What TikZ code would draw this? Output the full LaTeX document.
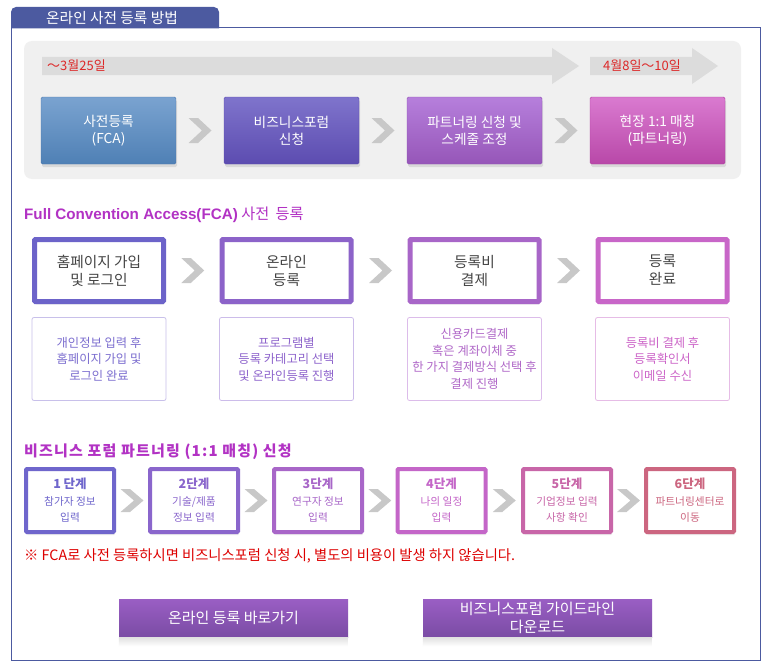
\documentclass[tikz,border=0pt]{standalone}
\usepackage{fontspec}
\setmainfont{Noto Sans CJK KR}
\newfontfamily\latinb{Liberation Sans}
\newfontfamily\spacedkr[LetterSpace=8]{Noto Sans CJK KR}
\usetikzlibrary{shadows,calc}
\definecolor{tabblue}{HTML}{4C5AA0}
\definecolor{panelgray}{HTML}{F0F0F0}
\definecolor{bargray}{HTML}{DCDCDC}
\definecolor{chevgray}{HTML}{C8C8C8}
\definecolor{datered}{HTML}{DD2828}
\definecolor{notered}{HTML}{DD0000}
\definecolor{headmag}{HTML}{B232C4}
\definecolor{textgray}{HTML}{444444}
\definecolor{cA}{HTML}{6C63C9}
\definecolor{cB}{HTML}{8C63C9}
\definecolor{cC}{HTML}{A866C8}
\definecolor{cD}{HTML}{C866C8}
\definecolor{sA}{HTML}{6F66CC}
\definecolor{sB}{HTML}{8A66CC}
\definecolor{sC}{HTML}{A866C8}
\definecolor{sD}{HTML}{C466C8}
\definecolor{sE}{HTML}{C866A8}
\definecolor{sF}{HTML}{CC6680}
\definecolor{tAt}{HTML}{7AA3D0}\definecolor{tAb}{HTML}{4F80B5}\definecolor{tAd}{HTML}{4A78B0}
\definecolor{tBt}{HTML}{7F74CC}\definecolor{tBb}{HTML}{5C4CB0}\definecolor{tBd}{HTML}{5A4AB0}
\definecolor{tCt}{HTML}{B67FDC}\definecolor{tCb}{HTML}{9656B8}\definecolor{tCd}{HTML}{9050B4}
\definecolor{tDt}{HTML}{DA7AD0}\definecolor{tDb}{HTML}{B848A8}\definecolor{tDd}{HTML}{B040A0}
\definecolor{dAd}{HTML}{C8C0EA}\definecolor{dAt}{HTML}{7B6DCF}
\definecolor{dBd}{HTML}{CCBCEA}\definecolor{dBt}{HTML}{8E64CC}
\definecolor{dCd}{HTML}{DCBCEA}\definecolor{dCt}{HTML}{B068C8}
\definecolor{dDd}{HTML}{E6BCE6}\definecolor{dDt}{HTML}{CC64C8}
\definecolor{BtnTop}{HTML}{9A5EC4}
\definecolor{BtnBot}{HTML}{7A4CA4}
\tikzset{
  chev/.pic={\fill[chevgray] (-11.5,-12.5) -- (-2,-12.5) -- (11.5,0) -- (-2,12.5) -- (-11.5,12.5) -- (2,0) -- cycle;},
  smallchev/.pic={\fill[chevgray] (-11.5,-11.5) -- (-2,-11.5) -- (11.5,0) -- (-2,11.5) -- (-11.5,11.5) -- (2,0) -- cycle;},
  topbox/.style={minimum width=135pt, minimum height=67pt, text=white, align=center,
    font=\fontsize{13.7}{17}\selectfont, rounded corners=1.5pt, inner sep=0pt,
    drop shadow={opacity=0.2, shadow xshift=1pt, shadow yshift=-3pt}},
  fcabox/.style={minimum width=129pt, minimum height=62pt, line width=5pt, fill=white,
    align=center, text=textgray, font=\fontsize{14.7}{18}\selectfont, inner sep=0pt,
    rounded corners=1pt, drop shadow={opacity=0.15, shadow xshift=1pt, shadow yshift=-3pt}},
  descbox/.style={minimum width=134pt, minimum height=83pt, line width=0.8pt,
    rounded corners=2pt, fill=white, align=center, font=\fontsize{12.3}{16.5}\selectfont, inner sep=0pt},
  stepbox/.style={minimum width=88pt, minimum height=63pt, line width=4pt, fill=white,
    align=center, font=\fontsize{10.7}{16.5}\selectfont, inner sep=0pt, rounded corners=1pt,
    drop shadow={opacity=0.15, shadow xshift=1pt, shadow yshift=-3pt}},
  btn/.style={minimum width=229pt, minimum height=38pt, top color=BtnTop, bottom color=BtnBot,
    text=white, align=center, font=\fontsize{15}{18}\selectfont, inner sep=0pt},
}
\newcommand{\steptitle}[1]{{\fontsize{12.5}{16.5}\selectfont\bfseries #1}}
\begin{document}
\begin{tikzpicture}[x=1pt,y=-1pt]
\useasboundingbox[fill=white] (0,0) rectangle (768,669);
% frame and tab
\draw[tabblue,line width=1pt] (11.5,28) rectangle (760,660);
\fill[tabblue] (11,28.5) [rounded corners=5pt] -- (11,7) -- (219,7) [sharp corners] -- (219,28.5) -- cycle;
\node[text=white, font=\fontsize{14.7}{16}\selectfont] (tab) at (112,18) {온라인 사전 등록 방법};
% panel
\fill[panelgray, rounded corners=8pt] (24,41) rectangle (741,179);
\fill[bargray] (42,57) -- (552,57) -- (552,48) -- (579,66) -- (552,84) -- (552,75) -- (42,75) -- cycle;
\fill[bargray] (590,57) -- (692,57) -- (692,48) -- (718,66) -- (692,84) -- (692,75) -- (590,75) -- cycle;
\node[anchor=west, text=datered, font=\fontsize{13}{15}\selectfont, inner sep=0pt] (date1) at (47,66) {～3월25일};
\node[text=datered, font=\fontsize{13}{15}\selectfont, inner sep=0pt] (date2) at (642,66) {4월8일～10일};
% top boxes
\node[topbox, top color=tAt, bottom color=tAb, draw=tAd] (t1) at (108.5,130.5) {사전등록\\(FCA)};
\node[topbox, top color=tBt, bottom color=tBb, draw=tBd] (t2) at (291.5,130.5) {비즈니스포럼\\신청};
\node[topbox, top color=tCt, bottom color=tCb, draw=tCd] (t3) at (474.5,130.5) {파트너링 신청 및\\스케줄 조정};
\node[topbox, top color=tDt, bottom color=tDb, draw=tDd] (t4) at (657.5,130.5) {현장 1:1 매칭\\(파트너링)};
\path ($(t1.east)!0.5!(t2.west)$) pic {chev};
\path ($(t2.east)!0.5!(t3.west)$) pic {chev};
\path ($(t3.east)!0.5!(t4.west)$) pic {chev};
% FCA heading
\node[anchor=west, text=headmag, font=\fontsize{15.2}{17}\selectfont, inner sep=0pt] (h1) at (24,215) {{\latinb\bfseries Full Convention Access(FCA)} 사전\hspace{3pt} 등록};
% FCA boxes
\node[fcabox, draw=cA] (f1) at (99,270.5) {홈페이지 가입\\및 로그인};
\node[fcabox, draw=cB] (f2) at (286.5,270.5) {온라인\\등록};
\node[fcabox, draw=cC] (f3) at (474.5,270.5) {등록비\\결제};
\node[fcabox, draw=cD] (f4) at (662.5,270.5) {등록\\완료};
\path ($(f1.east)!0.5!(f2.west)$) pic {chev};
\path ($(f2.east)!0.5!(f3.west)$) pic {chev};
\path ($(f3.east)!0.5!(f4.west)$) pic {chev};
% desc boxes
\node[descbox, draw=dAd, text=dAt] (d1) at (99,359) {개인정보 입력 후\\홈페이지 가입 및\\로그인 완료};
\node[descbox, draw=dBd, text=dBt] (d2) at (286.5,359) {프로그램별\\등록 카테고리 선택\\및 온라인등록 진행};
\node[descbox, draw=dCd, text=dCt] (d3) at (474.5,359) {신용카드결제\\혹은 계좌이체 중\\한 가지 결제방식 선택 후\\결제 진행};
\node[descbox, draw=dDd, text=dDt] (d4) at (662.5,359) {등록비 결제 후\\등록확인서\\이메일 수신};
% Business forum heading
\node[anchor=west, text=headmag, font=\spacedkr\fontsize{15}{17}\selectfont\bfseries, inner sep=0pt] (h2) at (24,452) {비즈니스 포럼 파트너링 (1:1 매칭) 신청};
% steps
\node[stepbox, draw=sA, text=sA] (s1) at (70,500.5) {\steptitle{1 단계}\\참가자 정보\\입력};
\node[stepbox, draw=sB, text=sB] (s2) at (194,500.5) {\steptitle{2단계}\\기술/제품\\정보 입력};
\node[stepbox, draw=sC, text=sC] (s3) at (318,500.5) {\steptitle{3단계}\\연구자 정보\\입력};
\node[stepbox, draw=sD, text=sD] (s4) at (441.5,500.5) {\steptitle{4단계}\\나의 일정\\입력};
\node[stepbox, draw=sE, text=sE] (s5) at (567,500.5) {\steptitle{5단계}\\기업정보 입력\\사항 확인};
\node[stepbox, draw=sF, text=sF] (s6) at (690,500.5) {\steptitle{6단계}\\파트너링센터로\\이동};
\path ($(s1.east)!0.5!(s2.west)$) pic {smallchev};
\path ($(s2.east)!0.5!(s3.west)$) pic {smallchev};
\path ($(s3.east)!0.5!(s4.west)$) pic {smallchev};
\path ($(s4.east)!0.5!(s5.west)$) pic {smallchev};
\path ($(s5.east)!0.5!(s6.west)$) pic {smallchev};
% note
\node[anchor=west, text=notered, font=\fontsize{14.3}{16}\selectfont, inner sep=0pt] (note) at (24,556) {※ FCA로 사전 등록하시면 비즈니스포럼 신청 시, 별도의 비용이 발생 하지 않습니다.};
% buttons
\node[btn] (b1) at (233.5,618) {온라인 등록 바로가기};
\node[btn] (b2) at (537.5,618) {비즈니스포럼 가이드라인\\다운로드};
\fill[top color=black!12, bottom color=white] (b1.south west) rectangle ++(229,9);
\fill[top color=black!12, bottom color=white] (b2.south west) rectangle ++(229,9);
\end{tikzpicture}
\end{document}
